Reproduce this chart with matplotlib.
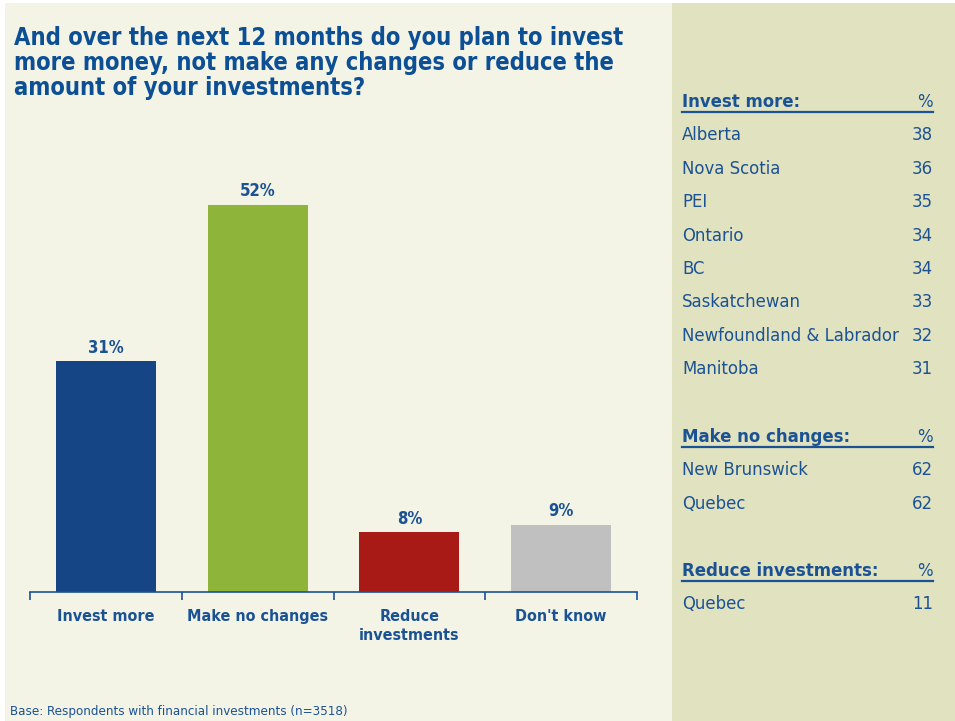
import matplotlib.pyplot as plt
from matplotlib.lines import Line2D
from matplotlib.patches import Rectangle

categories = ['Invest more', 'Make no changes', 'Reduce\ninvestments', "Don't know"]
values = [31, 52, 8, 9]
bar_colors = ['#154585', '#8FB43A', '#A81A16', '#C0C0C0']

invest_more_regions = ['Alberta', 'Nova Scotia', 'PEI', 'Ontario', 'BC',
                       'Saskatchewan', 'Newfoundland & Labrador', 'Manitoba']
invest_more_pct = [38, 36, 35, 34, 34, 33, 32, 31]
no_change_regions = ['New Brunswick', 'Quebec']
no_change_pct = [62, 62]
reduce_regions = ['Quebec']
reduce_pct = [11]

title = ('And over the next 12 months do you plan to invest\n'
         'more money, not make any changes or reduce the\n'
         'amount of your investments?')
footnote = 'Base: Respondents with financial investments (n=3518)'

W, H = 955, 721
blue = '#1B5294'
title_blue = '#0D4F95'
font = 'DejaVu Sans'


def fx(x):
    return x / W


def fy(y):
    return 1 - y / H


fig = plt.figure(figsize=(W / 100, H / 100), dpi=100)
fig.patch.set_facecolor('white')

# panels
fig.add_artist(Rectangle((fx(5), 0), fx(672) - fx(5), fy(3), transform=fig.transFigure,
                         facecolor='#F3F3E6', edgecolor='none', zorder=0))
fig.add_artist(Rectangle((fx(672), 0), fx(955) - fx(672), fy(3), transform=fig.transFigure,
                         facecolor='#E0E2C0', edgecolor='none', zorder=0))

ax = fig.add_axes([fx(30), fy(592), fx(637) - fx(30), fy(130) - fy(592)])
ax.set_facecolor('none')
x = range(len(categories))
bars = ax.bar(x, values, width=0.66, color=bar_colors, zorder=2)
for xi, v in zip(x, values):
    ax.text(xi, v + 0.6, f'{v}%', ha='center', va='bottom', color=blue,
            fontsize=12, fontweight='bold', family=font, fontstretch='condensed')

ax.set_xlim(-0.5, len(categories) - 0.5)
ax.set_ylim(0, 62)
ax.set_yticks([])
for s in ['top', 'left', 'right']:
    ax.spines[s].set_visible(False)
ax.spines['bottom'].set_color(blue)
ax.spines['bottom'].set_linewidth(1.2)
ax.set_xticks(list(x))
ax.set_xticklabels(categories, color=blue, fontsize=11.5, fontweight='bold',
                   family=font, fontstretch='condensed', linespacing=1.4)
ax.tick_params(axis='x', which='major', length=0, pad=12)
ax.set_xticks([i - 0.5 for i in range(len(categories) + 1)], minor=True)
ax.tick_params(axis='x', which='minor', length=6, width=1.2, color=blue, direction='out')

fig.text(fx(14), fy(26), title, ha='left', va='top', color=title_blue, fontsize=17,
         fontweight='bold', family=font, fontstretch='condensed', linespacing=1.05)
fig.text(fx(10), fy(711), footnote, ha='left', va='center', color=blue,
         fontsize=9.5, family=font, fontstretch='condensed')

# right panel table
xl, xr = 682, 933
row_h = 33.4
fs = 13.2


def section(y0, header, regions, pct):
    fig.text(fx(xl), fy(y0), header, ha='left', va='center', color=blue,
             fontsize=fs, fontweight='bold', family=font, fontstretch='condensed')
    fig.text(fx(xr), fy(y0), '%', ha='right', va='center', color=blue,
             fontsize=fs, family=font, fontstretch='condensed')
    fig.add_artist(Line2D([fx(xl), fx(xr)], [fy(y0 + 10), fy(y0 + 10)],
                          transform=fig.transFigure, color=blue, linewidth=1.6))
    for i, (r, p) in enumerate(zip(regions, pct)):
        y = y0 + (i + 1) * row_h
        fig.text(fx(xl), fy(y), r, ha='left', va='center', color=blue,
                 fontsize=fs, family=font, fontstretch='condensed')
        fig.text(fx(xr), fy(y), str(p), ha='right', va='center', color=blue,
                 fontsize=fs, family=font, fontstretch='condensed')


section(102, 'Invest more:', invest_more_regions, invest_more_pct)
section(437, 'Make no changes:', no_change_regions, no_change_pct)
section(571, 'Reduce investments:', reduce_regions, reduce_pct)

fig.savefig('out.png', dpi=100)
